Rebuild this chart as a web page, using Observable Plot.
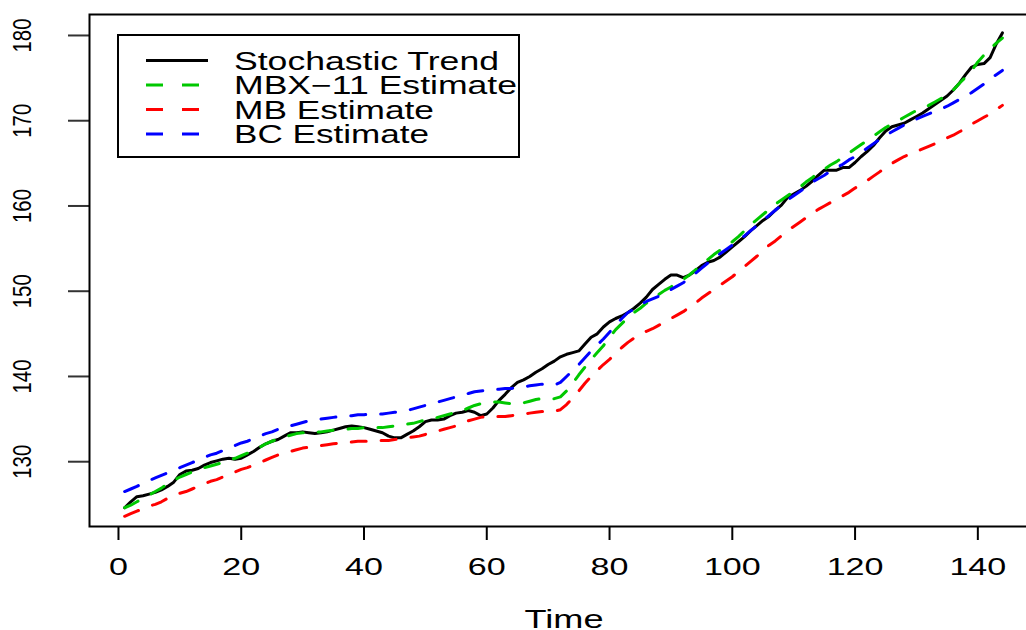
<!DOCTYPE html>
<html><head><meta charset="utf-8">
<script src="https://cdn.jsdelivr.net/npm/d3@7"></script>
<script src="https://cdn.jsdelivr.net/npm/@observablehq/plot@0.6"></script>
<style>
html,body{margin:0;padding:0;background:#fff;overflow:hidden;width:1026px;height:630px;}
#chart{position:relative;width:1026px;height:630px;overflow:hidden;}
#chart svg{font-family:"Liberation Sans",Arial,Helvetica,sans-serif;max-width:none !important;width:1040px !important;height:630px !important;display:block;}
</style></head><body><div id="chart"></div>
<script>
// ---- data ----
const stochastic = [124.6,125.3,125.9,126.0,126.2,126.4,126.7,127.1,127.6,128.5,
128.9,129.0,129.2,129.6,129.9,130.1,130.3,130.4,130.3,130.4,
130.8,131.2,131.7,132.1,132.4,132.6,133.0,133.4,133.4,133.5,
133.4,133.3,133.4,133.5,133.7,133.9,134.1,134.2,134.1,134.0,
133.8,133.6,133.4,133.0,132.8,132.8,133.2,133.6,134.1,134.7,
134.9,134.9,135.0,135.4,135.7,135.8,136.0,135.8,135.4,135.6,
136.3,137.2,137.9,138.7,139.3,139.6,140.0,140.5,140.9,141.4,
141.8,142.3,142.6,142.8,143.0,143.8,144.6,145.0,145.8,146.4,
146.8,147.1,147.5,148.0,148.6,149.3,150.2,150.8,151.4,151.9,
151.9,151.6,151.9,152.4,153.0,153.4,153.6,154.0,154.6,155.2,
155.8,156.4,157.1,157.7,158.3,158.8,159.5,160.1,161.0,161.4,
161.8,162.3,162.9,163.6,164.2,164.2,164.2,164.5,164.5,165.1,
165.8,166.4,167.1,168.0,168.8,169.3,169.5,169.7,170.1,170.5,
170.9,171.4,171.9,172.4,172.9,173.6,174.4,175.4,176.3,176.6,
176.7,177.4,179.0,180.3];
const mbx11 = [124.6,124.9,125.3,125.7,126.1,126.5,126.9,127.4,127.8,128.2,
128.5,128.8,129.0,129.3,129.5,129.7,129.9,130.2,130.4,130.7,
131.0,131.3,131.7,132.1,132.4,132.7,132.9,133.1,133.3,133.4,
133.4,133.5,133.5,133.6,133.7,133.8,133.8,133.9,133.9,134.0,
134.0,134.0,134.0,134.1,134.2,134.3,134.4,134.5,134.7,134.9,
135.0,135.2,135.4,135.6,135.8,136.0,136.3,136.6,136.8,136.9,
137.0,137.0,136.9,136.8,136.8,136.9,137.1,137.3,137.4,137.4,
137.4,137.6,138.3,139.2,140.2,141.1,142.0,142.8,143.6,144.6,
145.5,146.2,146.9,147.5,148.0,148.6,149.1,149.6,150.1,150.5,
151.0,151.4,151.9,152.5,153.1,153.7,154.3,154.8,155.3,155.8,
156.4,157.1,157.8,158.4,159.0,159.6,160.2,160.7,161.2,161.7,
162.2,162.8,163.3,163.9,164.3,164.8,165.2,165.7,166.2,166.7,
167.2,167.7,168.2,168.7,169.2,169.6,170.0,170.4,170.8,171.2,
171.5,171.8,172.2,172.6,173.0,173.6,174.4,175.1,175.9,176.9,
177.7,178.4,179.1,179.7];
const mb = [123.6,123.9,124.2,124.5,124.8,125.0,125.3,125.7,126.0,126.3,
126.5,126.8,127.1,127.4,127.7,127.9,128.2,128.5,128.8,129.1,
129.3,129.6,129.9,130.2,130.5,130.8,131.0,131.2,131.4,131.6,
131.7,131.8,131.9,132.0,132.1,132.2,132.3,132.3,132.4,132.4,
132.4,132.5,132.5,132.5,132.6,132.7,132.8,132.9,133.0,133.2,
133.4,133.6,133.8,134.0,134.2,134.5,134.8,135.0,135.2,135.3,
135.3,135.3,135.3,135.4,135.5,135.6,135.7,135.8,135.9,135.9,
135.9,136.1,136.7,137.5,138.3,139.2,140.0,140.7,141.4,142.0,
142.7,143.4,144.0,144.5,144.9,145.3,145.6,146.0,146.4,146.8,
147.2,147.6,148.1,148.6,149.2,149.7,150.2,150.7,151.2,151.7,
152.3,152.9,153.5,154.1,154.8,155.4,155.9,156.5,157.1,157.6,
158.1,158.6,159.1,159.6,160.0,160.4,160.8,161.2,161.6,162.1,
162.5,163.0,163.5,164.0,164.5,165.0,165.4,165.8,166.1,166.4,
166.7,167.0,167.3,167.7,168.0,168.3,168.7,169.1,169.6,170.0,
170.4,170.8,171.3,171.8];
const bc = [126.5,126.8,127.1,127.5,127.8,128.1,128.4,128.7,129.0,129.3,
129.6,129.9,130.2,130.5,130.8,131.0,131.3,131.6,131.9,132.2,
132.4,132.7,133.0,133.3,133.5,133.8,134.0,134.2,134.4,134.6,
134.8,134.9,135.0,135.1,135.2,135.3,135.4,135.4,135.5,135.5,
135.6,135.6,135.6,135.7,135.8,135.9,136.0,136.2,136.4,136.6,
136.8,137.0,137.2,137.4,137.6,137.8,138.0,138.2,138.3,138.4,
138.5,138.5,138.6,138.6,138.7,138.8,138.9,139.0,139.1,139.0,
139.0,139.3,140.0,140.7,141.4,142.2,143.0,143.7,144.4,145.2,
146.0,146.8,147.5,147.9,148.4,148.8,149.1,149.4,149.8,150.2,
150.6,151.0,151.5,152.1,152.7,153.3,153.9,154.4,154.9,155.4,
155.9,156.5,157.1,157.7,158.3,158.9,159.5,160.1,160.7,161.2,
161.7,162.2,162.8,163.2,163.6,164.1,164.5,164.9,165.4,165.8,
166.3,166.8,167.3,167.8,168.3,168.7,169.1,169.5,169.9,170.2,
170.5,170.8,171.1,171.4,171.7,172.1,172.5,172.9,173.3,173.8,
174.3,174.9,175.4,175.9];
const seriesNames = ["Stochastic Trend", "MBX\u221211 Estimate", "MB Estimate", "BC Estimate"];
const seriesColors = ["#000000", "#00C800", "#FF0000", "#0000FF"];
const xTicks = [0, 20, 40, 60, 80, 100, 120, 140];
const yTicks = [130, 140, 150, 160, 170, 180];
const xTitle = "Time";

// ---- build ----
const time = d3.range(1, stochastic.length + 1);
const seriesValues = [stochastic, mbx11, mb, bc];
const table = seriesValues.map(vals => time.map((t, i) => ({t, v: vals[i]})));

const lineMarks = table.map((rows, i) => Plot.line(rows, {
  x: "t", y: "v",
  stroke: seriesColors[i],
  strokeWidth: 3,
  strokeDasharray: i === 0 ? null : "15,15",
  strokeLinecap: "round",
  strokeLinejoin: "round"
}));

const chart = Plot.plot({
  width: 1040,
  height: 630,
  marginLeft: 89,
  marginRight: 3,
  marginTop: 14,
  marginBottom: 104,
  style: {fontFamily: "'Liberation Sans', Arial, sans-serif", fontSize: "23.5px", color: "black", background: "white"},
  x: {domain: [-4.72, 149.72]},
  y: {domain: [122.4, 182.46]},
  marks: [
    ...lineMarks,
    Plot.axisX({ticks: xTicks, tickSize: 14, tickPadding: 18, label: null, strokeWidth: 2, fontSize: 23.5, tickFormat: d => String(d)}),
    Plot.axisY({ticks: yTicks, tickSize: 21, label: null, strokeWidth: 2, stroke: "#333", tickFormat: () => ""}),
    Plot.text(yTicks, {y: d => d, text: d => String(d), frameAnchor: "left", dx: -66.5, dy: 17, rotate: -90, textAnchor: "start", fontSize: 26, fill: "black"}),
    Plot.text([xTitle], {text: d => d, frameAnchor: "bottom", dx: -39, dy: 101, textAnchor: "start", lineAnchor: "bottom", fontSize: 26, fill: "black"}),
    Plot.frame({stroke: "black", strokeWidth: 2})
  ]
});
document.getElementById("chart").appendChild(chart);

// horizontal stretch of text, as in the reference image
const svgLeft = chart.getBoundingClientRect().left;
d3.select(chart).selectAll("text").each(function() {
  const txt = this.textContent;
  const w = this.getComputedTextLength();
  if (!(w > 0)) return;
  const r = this.getBoundingClientRect();
  let target = null;
  if (txt === xTitle) target = 79;
  else if (r.right - svgLeft < 80 && yTicks.map(String).includes(txt)) target = 34;
  else if (xTicks.map(String).includes(txt)) target = w * 1.45;
  if (target != null) {
    this.setAttribute("textLength", target);
    this.setAttribute("lengthAdjust", "spacingAndGlyphs");
  }
});

// legend
const legendWidths = [265, 283, 200, 195];
const lg = d3.select(chart).append("g").attr("aria-label", "legend").attr("text-anchor", "start");
lg.append("rect").attr("x", 118).attr("y", 35).attr("width", 401).attr("height", 122)
  .attr("fill", "white").attr("stroke", "black").attr("stroke-width", 2);
seriesNames.forEach((name, i) => {
  const y = 60.5 + i * 24.5;
  lg.append("line").attr("x1", 146).attr("x2", 208).attr("y1", y).attr("y2", y)
    .attr("stroke", seriesColors[i]).attr("stroke-width", 3)
    .attr("stroke-dasharray", i === 0 ? null : "17,19");
  lg.append("text").attr("x", 234).attr("y", y).attr("dy", "0.36em")
    .attr("text-anchor", "start")
    .attr("font-size", 25).attr("fill", "black")
    .attr("textLength", legendWidths[i]).attr("lengthAdjust", "spacingAndGlyphs")
    .text(name);
});
</script>
</body></html>
